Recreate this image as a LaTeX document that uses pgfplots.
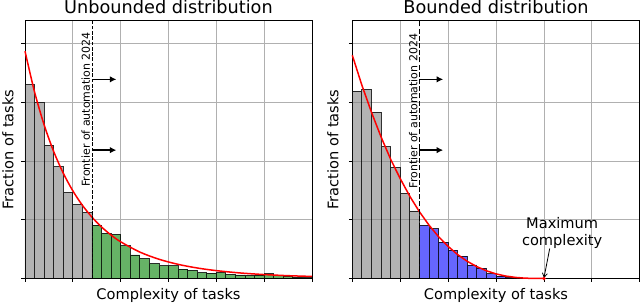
\documentclass[border=0pt]{standalone}
\usepackage{pgfplots}
\pgfplotsset{compat=1.18}
\usepackage{fontspec}
\setmainfont{DejaVu Sans}
\usetikzlibrary{arrows.meta}
\definecolor{gridc}{HTML}{B0B0B0}
\pgfplotsset{
  panel/.style={
    scale only axis, width=287bp, height=258.5bp,
    xmin=0, xmax=6, ymin=0, ymax=4.4,
    xtick={0,1,...,6}, ytick={0,1,...,4},
    xticklabels={}, yticklabels={},
    tick pos=left, tick align=outside,
    major tick length=3.5bp,
    every tick/.style={black, line width=0.8bp},
    axis line style={black, line width=0.8bp},
    grid=major, grid style={gridc, line width=0.8bp},
    clip=false,
  },
  bars/.style={ybar interval, draw=black, draw opacity=0.8, line width=0.8bp, fill opacity=0.6},
  farrow/.style={black, line width=1.6bp, -{Latex[length=6.5bp,width=6.5bp]}},
}
\begin{document}
\begin{tikzpicture}
\useasboundingbox (0,0) rectangle (640bp,305bp);
% ---------------- Left panel ----------------
\begin{axis}[panel, at={(25bp,26.5bp)}, anchor=south west]
\addplot[bars, fill=gray] coordinates {
(0.0,3.30) (0.2,2.99) (0.4,2.27) (0.6,1.90) (0.8,1.46) (1.0,1.26) (1.2,1.12) (1.4,0)};
\addplot[bars, fill={rgb,255:red,0;green,128;blue,0}] coordinates {
(1.4,0.91) (1.6,0.77) (1.8,0.75) (2.0,0.555) (2.2,0.40) (2.4,0.34) (2.6,0.255)
(2.8,0.215) (3.0,0.215) (3.2,0.16) (3.4,0.14) (3.6,0.10) (3.8,0.09) (4.0,0.10)
(4.2,0.07) (4.4,0.06) (4.6,0.055) (4.8,0.06) (5.0,0.08) (5.2,0.045) (5.4,0.035)
(5.6,0.02) (5.8,0.015) (6.0,0)};
\addplot[red, line width=1.5bp, smooth] coordinates {
(0,3.87) (0.2,3.175) (0.4,2.615) (0.6,2.161) (0.8,1.793) (1.0,1.492) (1.2,1.246)
(1.4,1.044) (1.6,0.877) (1.8,0.739) (2.0,0.625) (2.4,0.450) (2.8,0.328) (3.2,0.241)
(3.6,0.179) (4.0,0.134) (4.5,0.094) (5.0,0.067) (5.5,0.048) (6.0,0.035)};
\addplot[black, line width=0.8bp, dash pattern=on 3.7bp off 1.6bp] coordinates {(1.4,0) (1.4,4.4)};
\addplot[farrow] coordinates {(1.4,3.39) (1.91,3.39)};
\addplot[farrow] coordinates {(1.4,2.185) (1.91,2.185)};
\node[rotate=90, anchor=base west, inner sep=0pt, font=\fontsize{11bp}{13bp}\selectfont] at (axis cs:1.357,1.56) {Frontier of automation 2024};
\end{axis}
% ---------------- Right panel ----------------
\begin{axis}[panel, at={(352.3bp,26.5bp)}, anchor=south west, width=287.5bp]
\addplot[bars, fill=gray] coordinates {
(0.0,3.19) (0.2,3.22) (0.4,2.83) (0.6,2.24) (0.8,1.89) (1.0,1.45) (1.2,1.15) (1.4,0)};
\addplot[bars, fill=blue] coordinates {
(1.4,0.905) (1.6,0.85) (1.8,0.62) (2.0,0.485) (2.2,0.38) (2.4,0.23) (2.6,0.175)
(2.8,0.08) (3.0,0.04) (3.2,0.015) (3.4,0)};
\addplot[red, line width=1.5bp] coordinates {
(0,3.80) (0.2,3.29) (0.4,2.83) (0.6,2.41) (0.8,2.03) (1.0,1.70) (1.2,1.40)
(1.4,1.137) (1.6,0.909) (1.8,0.712) (2.0,0.546) (2.2,0.406) (2.4,0.292) (2.6,0.201)
(2.8,0.131) (3.0,0.078) (3.2,0.042) (3.4,0.019) (3.6,0.006) (3.8,0.001) (4.0,0)};
\addplot[red, only marks, mark=*, mark size=1.6bp] coordinates {(4,0)};
\addplot[black, line width=1.5bp, dash pattern=on 5bp off 2.2bp] coordinates {(1.4,0) (1.4,4.4)};
\addplot[farrow] coordinates {(1.4,3.39) (1.896,3.39)};
\addplot[farrow] coordinates {(1.4,2.185) (1.896,2.185)};
\addplot[black, line width=0.8bp, -{Straight Barb[length=4bp,width=5bp]}] coordinates {(4.12,0.51) (4.0,0.01)};
\node[rotate=90, anchor=base west, inner sep=0pt, font=\fontsize{11bp}{13bp}\selectfont] at (axis cs:1.36,1.53) {Frontier of automation 2024};
\node[anchor=north, inner sep=0pt, align=center, font=\fontsize{14.6bp}{17.5bp}\selectfont] at (axis cs:4.38,1.05) {Maximum\\complexity};
\end{axis}
% ---------------- Titles and labels ----------------
\node[anchor=base, inner sep=0pt, font=\fontsize{17.7bp}{21bp}\selectfont] at (168.5bp,291bp) {Unbounded distribution};
\node[anchor=base, inner sep=0pt, font=\fontsize{17.7bp}{21bp}\selectfont] at (496bp,291bp) {Bounded distribution};
\node[anchor=base, inner sep=0pt, font=\fontsize{14.6bp}{17.5bp}\selectfont] at (168.5bp,6bp) {Complexity of tasks};
\node[anchor=base, inner sep=0pt, font=\fontsize{14.6bp}{17.5bp}\selectfont] at (496bp,6bp) {Complexity of tasks};
\node[rotate=90, anchor=base, inner sep=0pt, font=\fontsize{14.6bp}{17.5bp}\selectfont] at (13.3bp,155.5bp) {Fraction of tasks};
\node[rotate=90, anchor=base, inner sep=0pt, font=\fontsize{14.6bp}{17.5bp}\selectfont] at (338.3bp,155.5bp) {Fraction of tasks};
\end{tikzpicture}
\end{document}
